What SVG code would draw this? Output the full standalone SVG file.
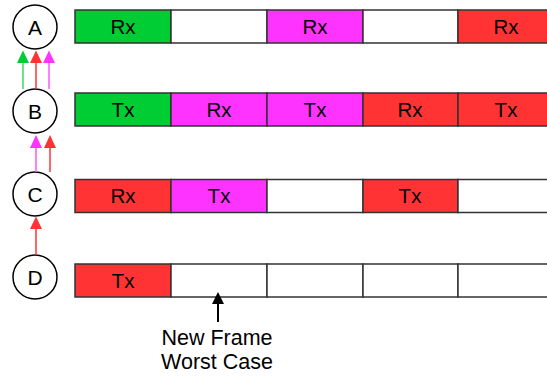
<svg xmlns="http://www.w3.org/2000/svg" width="547" height="376" viewBox="0 0 547 376">
<style>
.cell{stroke:#333;stroke-width:1.5}
.g{fill:#00cc33}.m{fill:#ff33ff}.r{fill:#ff3333}.w{fill:#fff}
text{font-family:"Liberation Sans",Arial,sans-serif;fill:#000;text-anchor:middle}
.ct{font-size:20.5px}
.lt{font-size:21.5px}
.nt{font-size:21px}
.node{fill:#fff;stroke:#000;stroke-width:1.5}
</style>
<rect width="547" height="376" fill="#fff"/>
<g id="node-A">
<circle class="node" cx="35" cy="27" r="22"/><text class="nt" x="35" y="34.5">A</text>
</g>
<g id="node-B">
<circle class="node" cx="35" cy="111" r="22"/><text class="nt" x="35" y="118.5">B</text>
</g>
<g id="node-C">
<circle class="node" cx="35" cy="194" r="22"/><text class="nt" x="35" y="201.5">C</text>
</g>
<g id="node-D">
<circle class="node" cx="35" cy="277" r="22"/><text class="nt" x="35" y="284.5">D</text>
</g>
<g id="row-A">
<rect class="cell g" x="75" y="10" width="96" height="33"/>
<rect class="cell w" x="171" y="10" width="96" height="33"/>
<rect class="cell m" x="267" y="10" width="96" height="33"/>
<rect class="cell w" x="363" y="10" width="95" height="33"/>
<rect class="cell r" x="458" y="10" width="96" height="33"/>
<text class="ct" x="123" y="33.5">Rx</text>
<text class="ct" x="315" y="33.5">Rx</text>
<text class="ct" x="506" y="33.5">Rx</text>
</g>
<g id="row-B">
<rect class="cell g" x="75" y="93" width="96" height="33"/>
<rect class="cell m" x="171" y="93" width="96" height="33"/>
<rect class="cell m" x="267" y="93" width="96" height="33"/>
<rect class="cell r" x="363" y="93" width="95" height="33"/>
<rect class="cell r" x="458" y="93" width="96" height="33"/>
<text class="ct" x="123" y="116.5">Tx</text>
<text class="ct" x="219" y="116.5">Rx</text>
<text class="ct" x="315" y="116.5">Tx</text>
<text class="ct" x="410" y="116.5">Rx</text>
<text class="ct" x="506" y="116.5">Tx</text>
</g>
<g id="row-C">
<rect class="cell r" x="75" y="179.5" width="96" height="33"/>
<rect class="cell m" x="171" y="179.5" width="96" height="33"/>
<rect class="cell w" x="267" y="179.5" width="96" height="33"/>
<rect class="cell r" x="363" y="179.5" width="95" height="33"/>
<rect class="cell w" x="458" y="179.5" width="96" height="33"/>
<text class="ct" x="123" y="203">Rx</text>
<text class="ct" x="219" y="203">Tx</text>
<text class="ct" x="410" y="203">Tx</text>
</g>
<g id="row-D">
<rect class="cell r" x="75" y="264" width="96" height="33"/>
<rect class="cell w" x="171" y="264" width="96" height="33"/>
<rect class="cell w" x="267" y="264" width="96" height="33"/>
<rect class="cell w" x="363" y="264" width="95" height="33"/>
<rect class="cell w" x="458" y="264" width="96" height="33"/>
<text class="ct" x="123" y="287.5">Tx</text>
</g>
<g id="connectors">
<line x1="23" y1="89" x2="23" y2="60" stroke="#33dd66" stroke-width="1.5"/>
<path d="M17,63 L23,50.5 L29,63 Z" fill="#00cc33"/>
<line x1="36" y1="89" x2="36" y2="60" stroke="#ff3333" stroke-width="1.5"/>
<path d="M30,63 L36,50.5 L42,63 Z" fill="#ff3333"/>
<line x1="49" y1="89" x2="49" y2="60" stroke="#ff55ff" stroke-width="1.5"/>
<path d="M43,63 L49,50.5 L55,63 Z" fill="#ff33ff"/>
<line x1="36" y1="172" x2="36" y2="145" stroke="#ff55ff" stroke-width="1.5"/>
<path d="M30,148 L36,135 L42,148 Z" fill="#ff33ff"/>
<line x1="50" y1="172" x2="50" y2="145" stroke="#ff3333" stroke-width="1.5"/>
<path d="M44,148 L50,135 L56,148 Z" fill="#ff3333"/>
<line x1="36" y1="255" x2="36" y2="226" stroke="#ff3333" stroke-width="1.5"/>
<path d="M30,229 L36,216.5 L42,229 Z" fill="#ff3333"/>
<line x1="218" y1="322" x2="218" y2="302" stroke="#000" stroke-width="2"/>
<path d="M212,304 L218,292 L224,304 Z" fill="#000"/>
</g>
<text class="lt" x="217" y="345">New Frame</text>
<text class="lt" x="217" y="369">Worst Case</text>
</svg>
